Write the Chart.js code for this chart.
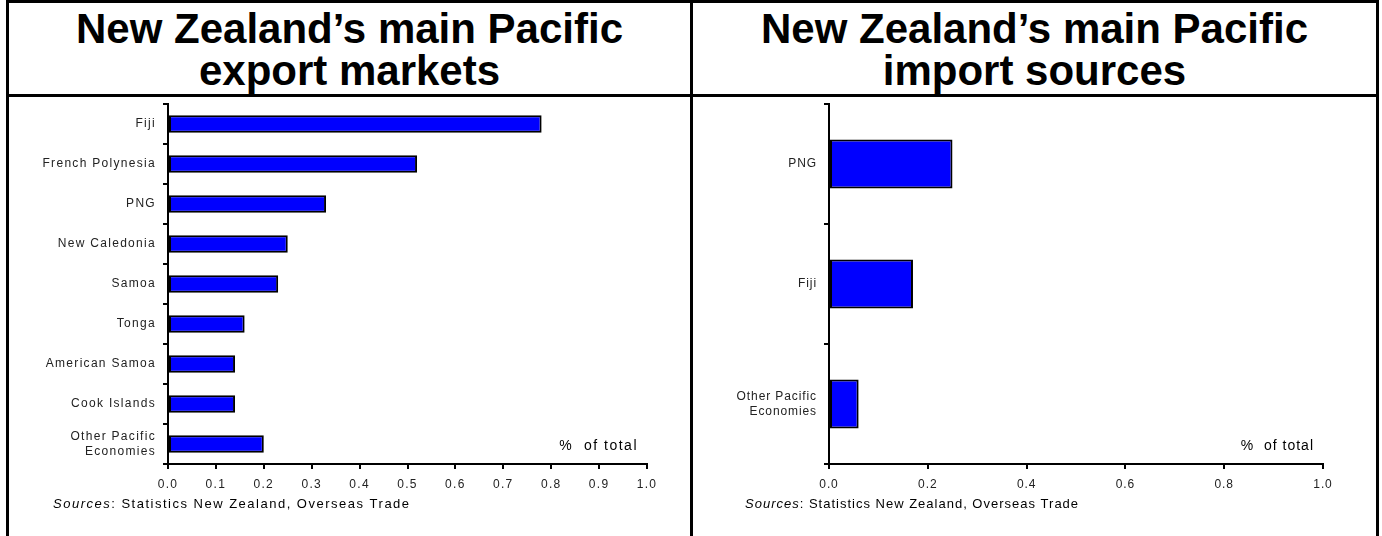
<!DOCTYPE html>
<html>
<head>
<meta charset="utf-8">
<title>New Zealand's main Pacific trade partners</title>
<script src="https://cdn.jsdelivr.net/npm/chart.js@4/dist/chart.umd.min.js"></script>
<style>
    body { margin: 0; background: #fff; width: 1382px; height: 536px; overflow: hidden; position: relative; font-family: "Liberation Sans", Arial, sans-serif; }
    .rule { position: absolute; background: #000; }
    .title { position: absolute; top: 6px; height: 88px; display: flex; align-items: center; justify-content: center; text-align: center; font-weight: bold; font-size: 42px; line-height: 42px; color: #000; }
    .panel { position: absolute; top: 97px; }
    .panel canvas { display: block; }
</style>
</head>
<body>
<!-- frame lines -->
<div class="rule" style="left:6px;top:0;width:3px;height:536px"></div>
<div class="rule" style="left:1376px;top:0;width:3px;height:536px"></div>
<div class="rule" style="left:6px;top:0;width:1373px;height:3px"></div>
<div class="rule" style="left:6px;top:94px;width:1373px;height:3px"></div>
<div class="rule" style="left:690px;top:0;width:3px;height:536px"></div>

<div class="title" style="left:9px;width:681px">New Zealand’s main Pacific<br>export markets</div>
<div class="title" style="left:693px;width:683px">New Zealand’s main Pacific<br>import sources</div>

<div class="panel" style="left:9px"><canvas id="exportChart" width="681" height="439"></canvas></div>
<div class="panel" style="left:693px"><canvas id="importChart" width="683" height="439"></canvas></div>

<script>
// Export markets, share of total exports (%)
const exportMarkets = ['Fiji', 'French Polynesia', 'PNG', 'New Caledonia', 'Samoa', 'Tonga', 'American Samoa', 'Cook Islands', ['Other Pacific', 'Economies']];
const exportShares = [0.78, 0.52, 0.33, 0.25, 0.23, 0.16, 0.14, 0.14, 0.20];

// Import sources, share of total imports (%)
const importSources = ['PNG', 'Fiji', ['Other Pacific', 'Economies']];
const importShares = [0.25, 0.17, 0.06];

// x axis ticks
const axisMax = 1.0;
const exportStep = 0.1;
const importStep = 0.2;

const unitLabel = '%  of total';
const sourceLabel = 'Statistics New Zealand, Overseas Trade';

const FONT = '"Liberation Sans", Arial, sans-serif';

// canvas resets letterSpacing on resize, so set it again before measuring and drawing
const spacingPlugin = {
    id: 'spacing',
    beforeLayout(chart, args, opts) { chart.ctx.letterSpacing = opts.px + 'px'; },
    beforeDraw(chart, args, opts) { chart.ctx.letterSpacing = opts.px + 'px'; }
};

// "% of total" note inside the plot and the sources line under the axis
const notesPlugin = {
    id: 'notes',
    afterDraw(chart, args, opts) {
        const ctx = chart.ctx;
        const a = chart.chartArea;
        ctx.save();
        ctx.fillStyle = '#000';
        ctx.letterSpacing = opts.spacing + 'px';
        ctx.textBaseline = 'middle';

        ctx.font = '14px ' + FONT;
        ctx.textAlign = 'right';
        ctx.fillText(unitLabel, a.right - 9, a.bottom - 18);

        ctx.textAlign = 'left';
        const y = a.bottom + 40;
        let x = a.left - opts.sourceOffset;
        ctx.font = 'italic 13px ' + FONT;
        ctx.fillText('Sources', x, y);
        x += ctx.measureText('Sources').width;
        ctx.font = '13px ' + FONT;
        ctx.fillText(': ' + sourceLabel, x, y);
        ctx.restore();
    }
};

function makeChart(id, labels, values, cfg) {
    return new Chart(document.getElementById(id), {
        type: 'bar',
        data: {
            labels: labels,
            datasets: [{
                data: values,
                backgroundColor: '#0000ff',
                borderColor: '#000',
                borderWidth: 2,
                borderSkipped: false,
                categoryPercentage: 1,
                barPercentage: cfg.barPct
            }]
        },
        options: {
            indexAxis: 'y',
            responsive: false,
            animation: false,
            layout: { padding: { top: 7, right: cfg.padRight, bottom: 0, left: 0 } },
            plugins: {
                legend: { display: false },
                tooltip: { enabled: false },
                spacing: { px: cfg.spacing },
                notes: { spacing: cfg.noteSpacing, sourceOffset: cfg.sourceOffset }
            },
            scales: {
                y: {
                    // fixed label column, no extra room for half-label overhang
                    afterFit(scale) {
                        scale.width = cfg.axisWidth;
                        scale.paddingTop = 0;
                        scale.paddingBottom = 0;
                    },
                    border: { color: '#000', width: 2 },
                    grid: { drawOnChartArea: false, drawTicks: true, tickLength: 5, color: '#000', lineWidth: 2 },
                    ticks: { color: '#222', padding: 7, font: { family: FONT, size: 12 } }
                },
                x: {
                    min: 0,
                    max: axisMax,
                    afterFit(scale) { scale.height = 72; },
                    border: { color: '#000', width: 2 },
                    grid: { drawOnChartArea: false, drawTicks: true, tickLength: 5, color: '#000', lineWidth: 2 },
                    ticks: {
                        stepSize: cfg.step,
                        color: '#222',
                        padding: 8,
                        maxRotation: 0,
                        font: { family: FONT, size: 12 },
                        callback: v => Number(v).toFixed(1)
                    }
                }
            }
        },
        plugins: [spacingPlugin, notesPlugin]
    });
}

makeChart('exportChart', exportMarkets, exportShares, {
    barPct: 0.44, padRight: 43, axisWidth: 159, step: exportStep,
    spacing: 1.3, noteSpacing: 1.5, sourceOffset: 115
});

makeChart('importChart', importSources, importShares, {
    barPct: 0.41, padRight: 53, axisWidth: 136, step: importStep,
    spacing: 0.9, noteSpacing: 1, sourceOffset: 84
});
</script>
</body>
</html>
